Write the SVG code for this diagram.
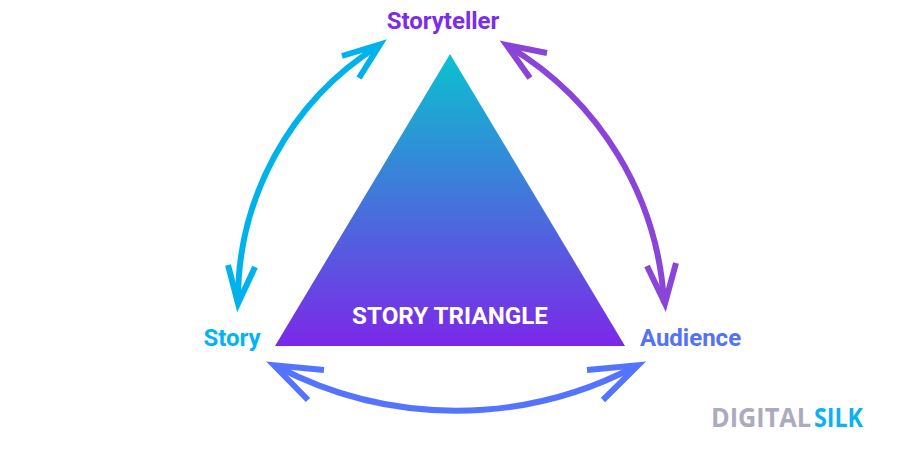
<svg xmlns="http://www.w3.org/2000/svg" width="900" height="450" viewBox="0 0 900 450">
  <style>
    text { font-family: Roboto, "Liberation Sans", sans-serif; font-weight: 700; }
    .label { font-size: 24px; }
    .mark { font-family: "Open Sans", "Liberation Sans", sans-serif; font-size: 27px; }
    .conn { fill: none; stroke-width: 6; stroke-miterlimit: 12; }
    .cyan { stroke: #00b2ec; }
    .violet { stroke: #8a44d8; }
    .blue { stroke: #5474ff; }
  </style>
  <defs>
    <linearGradient id="fade" x1="0" y1="54" x2="0" y2="346" gradientUnits="userSpaceOnUse">
      <stop offset="0" stop-color="#0ac2cf"/>
      <stop offset="1" stop-color="#7c28e8"/>
    </linearGradient>
  </defs>
  <rect width="900" height="450" fill="#ffffff"/>

  <g id="connectors">
    <!-- story to storyteller -->
    <path class="conn cyan" d="M238 303 A 300 300 0 0 1 378 46"/>
    <polyline class="conn cyan" points="342,56 380,44.5 359,78"/>
    <polyline class="conn cyan" points="228,265 238,303.5 255,267"/>
    <!-- storyteller to audience -->
    <path class="conn violet" d="M508 46 A 320 320 0 0 1 664 303"/>
    <polyline class="conn violet" points="547,53 506.5,45 530,78"/>
    <polyline class="conn violet" points="647,266 665,303.5 676,263"/>
    <!-- story to audience -->
    <path class="conn blue" d="M276 366 A 385 385 0 0 0 636 366"/>
    <polyline class="conn blue" points="324,370 274,365.3 308,400"/>
    <polyline class="conn blue" points="587,370 638,365.3 603,400"/>
  </g>

  <g id="triangle">
    <polygon points="450,54 625,346 275,346" fill="url(#fade)"/>
    <text x="450" y="324" text-anchor="middle" font-size="24.2" fill="#ffffff">STORY TRIANGLE</text>
  </g>
  <g id="storyteller">
    <text class="label" x="443" y="29" text-anchor="middle" fill="#7b2ee8">Storyteller</text>
  </g>
  <g id="story">
    <text class="label" x="232" y="346" text-anchor="middle" fill="#00b4f5">Story</text>
  </g>
  <g id="audience">
    <text class="label" x="690.5" y="346" text-anchor="middle" fill="#5272f7">Audience</text>
  </g>
  <g id="brand">
    <text class="mark" x="711" y="427" textLength="100" lengthAdjust="spacingAndGlyphs" fill="#abaabf">DIGITAL</text>
    <text class="mark" x="814" y="427" textLength="49" lengthAdjust="spacingAndGlyphs" fill="#0cb2ee">SILK</text>
  </g>
</svg>
